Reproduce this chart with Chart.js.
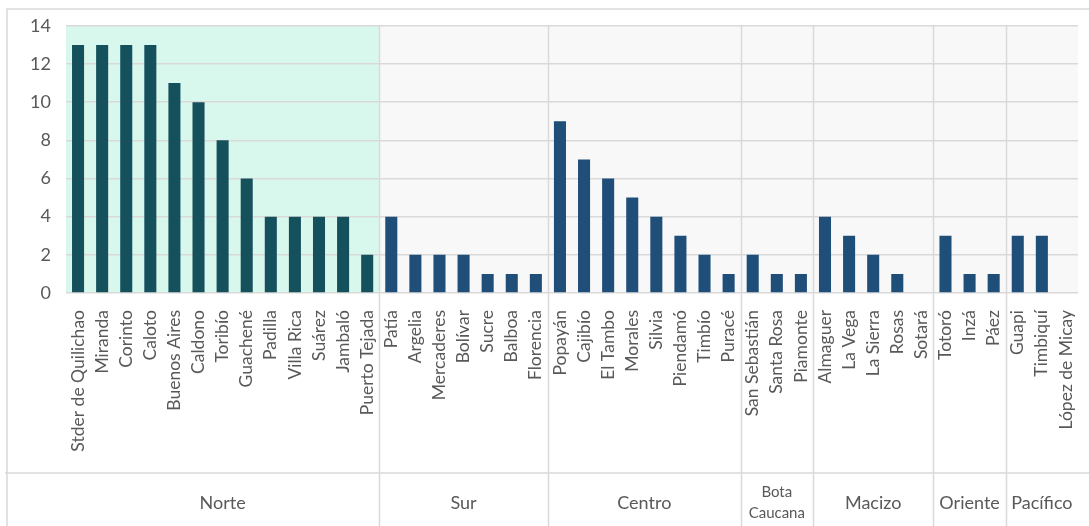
<!DOCTYPE html>
<html>
<head>
<meta charset="utf-8">
<script src="https://cdn.jsdelivr.net/npm/chart.js@4.4.1/dist/chart.umd.min.js"></script>
<style>
  html, body { margin: 0; padding: 0; background: #fff; }
  #wrap { width: 1089px; height: 526px; position: relative; }
</style>
</head>
<body>
<div id="wrap"><canvas id="grafico"></canvas></div>
<script>
// Municipios por región (en orden del eje)
const municipios = [
    'Stder de Quilichao', 'Miranda', 'Corinto', 'Caloto', 'Buenos Aires', 'Caldono', 'Toribío',
    'Guachené', 'Padilla', 'Villa Rica', 'Suárez', 'Jambaló', 'Puerto Tejada',
    'Patía', 'Argelia', 'Mercaderes', 'Bolívar', 'Sucre', 'Balboa', 'Florencia',
    'Popayán', 'Cajibío', 'El Tambo', 'Morales', 'Silvia', 'Piendamó', 'Timbío', 'Puracé',
    'San Sebastián', 'Santa Rosa', 'Piamonte',
    'Almaguer', 'La Vega', 'La Sierra', 'Rosas', 'Sotará',
    'Totoró', 'Inzá', 'Páez',
    'Guapi', 'Timbiquí', 'López de Micay'
];
const valores = [
    13, 13, 13, 13, 11, 10, 8, 6, 4, 4, 4, 4, 2,
    4, 2, 2, 2, 1, 1, 1,
    9, 7, 6, 5, 4, 3, 2, 1,
    2, 1, 1,
    4, 3, 2, 1, 0,
    3, 1, 1,
    3, 3, 0
];
const regiones = ['Norte', 'Sur', 'Centro', ['Bota', 'Caucana'], 'Macizo', 'Oriente', 'Pacífico'];
const municipiosPorRegion = [13, 7, 8, 3, 5, 3, 3];
const ticksY = [0, 2, 4, 6, 8, 10, 12, 14];

const GRIS = '#595959';
const LINEA = '#d9d9d9';
const FUENTE = 'Lato, "Open Sans", sans-serif';

// color de barra: Norte en verde azulado, el resto en azul
const colores = valores.map((v, i) => i < municipiosPorRegion[0] ? '#15505d' : '#1f4e79');

const regionesPlugin = {
    id: 'regiones',
    beforeDraw(chart) {
        const { ctx, chartArea } = chart;
        const cw = (chartArea.right - chartArea.left) / municipios.length;
        ctx.save();
        let inicio = 0;
        municipiosPorRegion.forEach((n, r) => {
            const x0 = chartArea.left + inicio * cw;
            const x1 = chartArea.left + (inicio + n) * cw;
            ctx.fillStyle = r === 0 ? '#d9f8ed' : '#f8f8f8';
            ctx.fillRect(x0, chartArea.top, x1 - x0, chartArea.bottom - chartArea.top);
            inicio += n;
        });
        ctx.restore();
    },
    afterDraw(chart) {
        const { ctx, chartArea, width, height } = chart;
        const cw = (chartArea.right - chartArea.left) / municipios.length;
        const yLinea = 473;
        ctx.save();
        ctx.strokeStyle = LINEA;
        ctx.lineWidth = 1.5;
        // marco
        ctx.beginPath();
        ctx.moveTo(7, height);
        ctx.lineTo(7, 9);
        ctx.lineTo(width, 9);
        ctx.moveTo(5, yLinea);
        ctx.lineTo(width, yLinea);
        ctx.stroke();

        // separadores de región y nombres
        let inicio = 0;
        municipiosPorRegion.forEach((n, r) => {
            const x0 = chartArea.left + inicio * cw;
            const x1 = chartArea.left + (inicio + n) * cw;
            if (r > 0) {
                ctx.beginPath();
                ctx.moveTo(Math.round(x0) + 0.5, chartArea.top);
                ctx.lineTo(Math.round(x0) + 0.5, height);
                ctx.stroke();
            }
            const nombre = regiones[r];
            ctx.fillStyle = GRIS;
            ctx.textAlign = 'center';
            ctx.textBaseline = 'middle';
            const cx = (x0 + x1) / 2;
            if (Array.isArray(nombre)) {
                ctx.font = '15px ' + FUENTE;
                ctx.fillText(nombre[0], cx, 492);
                ctx.fillText(nombre[1], cx, 513);
            } else {
                ctx.font = '18px ' + FUENTE;
                ctx.fillText(nombre, cx, 503);
            }
            inicio += n;
        });
        ctx.restore();
    }
};

const ctx = document.getElementById('grafico').getContext('2d');
const grafico = new Chart(ctx, {
    type: 'bar',
    data: {
        labels: municipios,
        datasets: [{
            data: valores,
            backgroundColor: colores,
            borderWidth: 0,
            barPercentage: 0.5,
            categoryPercentage: 1.0
        }]
    },
    options: {
        responsive: true,
        maintainAspectRatio: false,
        animation: false,
        layout: { padding: { left: 0, right: 11, top: 24, bottom: 0 } },
        plugins: {
            legend: { display: false },
            tooltip: { enabled: false }
        },
        scales: {
            x: {
                grid: { display: false },
                border: { display: false },
                ticks: {
                    color: GRIS,
                    font: { family: FUENTE, size: 17.5 },
                    minRotation: 90,
                    maxRotation: 90,
                    autoSkip: false,
                    padding: 9
                },
                afterFit(scale) {
                    scale.height = 233;
                    scale.paddingLeft = 0;
                    scale.paddingRight = 0;
                }
            },
            y: {
                min: 0,
                max: 14,
                afterBuildTicks(scale) { scale.ticks = ticksY.map(v => ({ value: v })); },
                grid: { color: LINEA, lineWidth: 1.5, drawTicks: false },
                border: { display: false },
                ticks: {
                    color: GRIS,
                    font: { family: FUENTE, size: 18 },
                    padding: 15
                },
                afterFit(scale) { scale.width = 66; }
            }
        }
    },
    plugins: [regionesPlugin]
});
</script>
</body>
</html>
